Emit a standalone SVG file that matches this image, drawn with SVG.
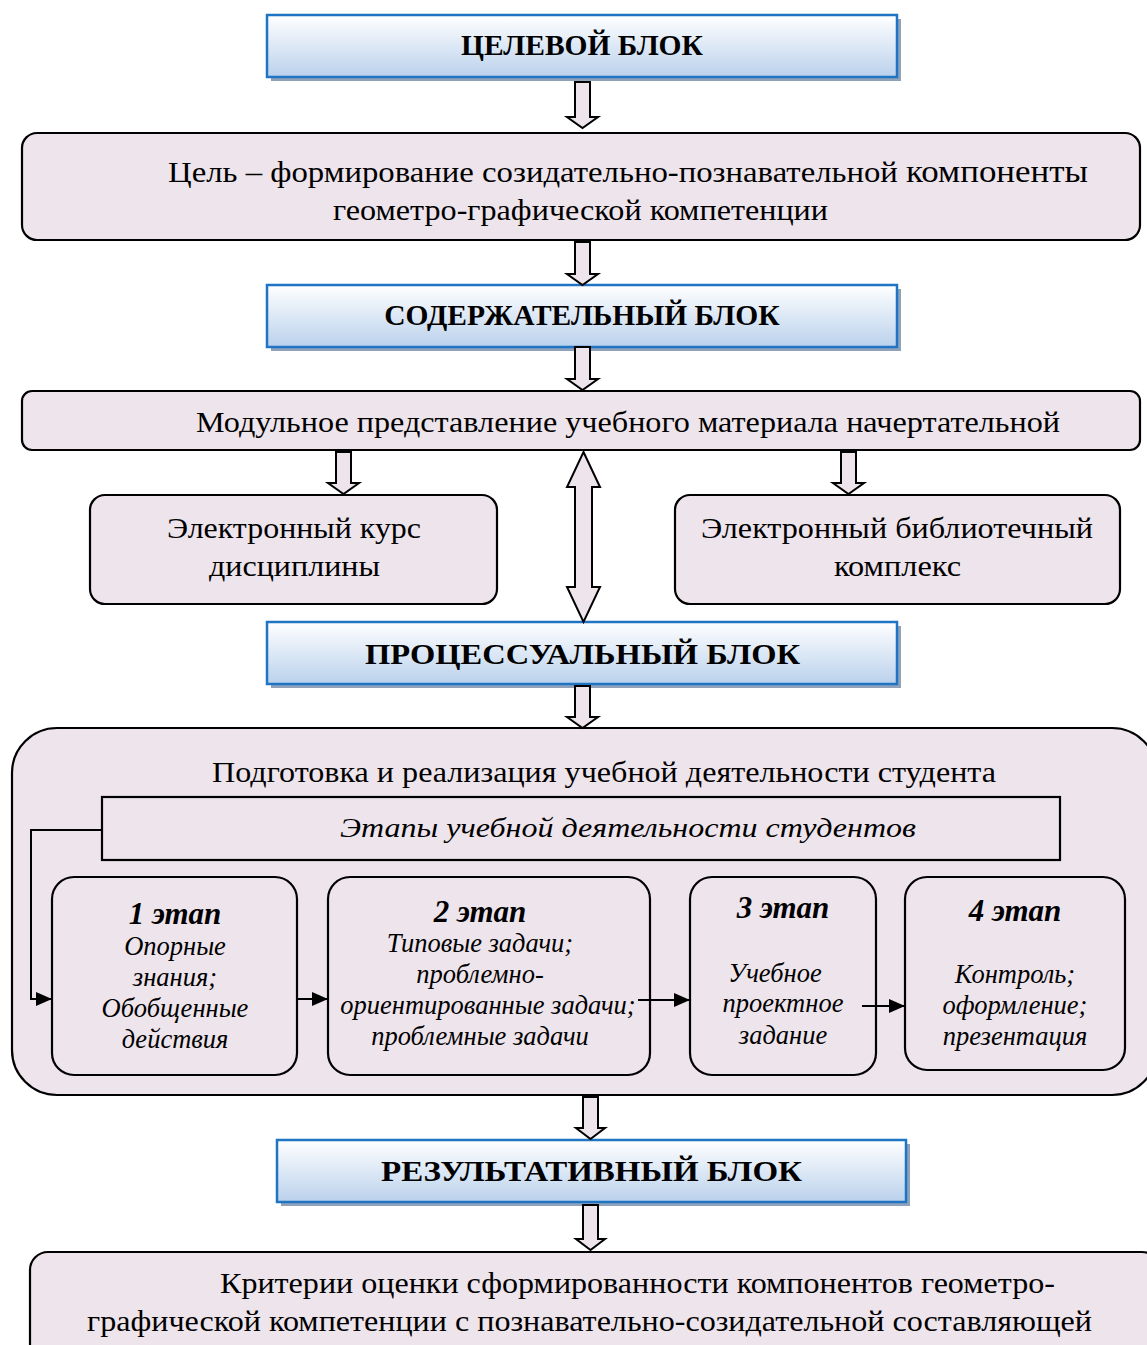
<svg xmlns="http://www.w3.org/2000/svg" width="1147" height="1345" viewBox="0 0 1147 1345">
<defs>
<linearGradient id="hg" x1="0" y1="0" x2="0" y2="1">
<stop offset="0" stop-color="#FFFFFF"/>
<stop offset="1" stop-color="#BAD1EC"/>
</linearGradient>
<marker id="ah2" markerWidth="16" markerHeight="14" refX="15" refY="7" orient="auto" markerUnits="userSpaceOnUse">
<path d="M0,0 L16,7 L0,14 Z" fill="#000"/>
</marker>
</defs>
<style>
.hdr rect.sh{fill:#8FA2BA}
.hdr rect.b{fill:url(#hg);stroke:#1F74C4;stroke-width:2.5}
.hdr text{font-family:"Liberation Serif",serif;font-weight:bold;font-size:29.5px;fill:#000;text-anchor:middle}
.box{fill:#EEE4EC;stroke:#000;stroke-width:2.2}
.t{font-family:"Liberation Serif",serif;font-size:30px;fill:#000;text-anchor:middle}
.ti{font-family:"Liberation Serif",serif;font-style:italic;font-size:26.5px;fill:#000;text-anchor:middle}
.tb{font-family:"Liberation Serif",serif;font-style:italic;font-weight:bold;font-size:31px;fill:#000;text-anchor:middle}
.fa{fill:#EEE4EC;stroke:#000;stroke-width:2;stroke-linejoin:miter}
.ln{fill:none;stroke:#000;stroke-width:2}
</style>

<g id="h1" class="hdr">
<rect class="sh" x="271" y="19" width="630" height="62"/>
<rect class="b" x="267" y="15" width="630" height="62"/>
<text x="582" y="55">ЦЕЛЕВОЙ БЛОК</text>
</g>

<g id="goal">
<rect class="box" x="22" y="133" width="1118" height="107" rx="15"/>
<text class="t" x="628" y="182" textLength="920" lengthAdjust="spacingAndGlyphs">Цель – формирование созидательно-познавательной <tspan font-size="32">компоненты</tspan></text>
<text class="t" x="580.5" y="220" textLength="495" lengthAdjust="spacingAndGlyphs">геометро-графической компетенции</text>
</g>

<g id="h2" class="hdr">
<rect class="sh" x="271" y="289" width="630" height="62"/>
<rect class="b" x="267" y="285" width="630" height="62"/>
<text x="582" y="325">СОДЕРЖАТЕЛЬНЫЙ БЛОК</text>
</g>

<g id="module">
<rect class="box" x="22" y="391" width="1118" height="59" rx="10"/>
<text class="t" x="628" y="432" textLength="864" lengthAdjust="spacingAndGlyphs">Модульное представление учебного материала начертательной</text>
</g>

<g id="ecourse">
<rect class="box" x="90" y="495" width="407" height="109" rx="15"/>
<text class="t" x="294" y="538" textLength="254" lengthAdjust="spacingAndGlyphs">Электронный курс</text>
<text class="t" x="294.5" y="576" textLength="171" lengthAdjust="spacingAndGlyphs">дисциплины</text>
</g>

<g id="elib">
<rect class="box" x="675" y="495" width="445" height="109" rx="15"/>
<text class="t" x="897" y="538" textLength="392" lengthAdjust="spacingAndGlyphs">Электронный библиотечный</text>
<text class="t" x="897.5" y="576" textLength="127" lengthAdjust="spacingAndGlyphs">комплекс</text>
</g>

<g id="h3" class="hdr">
<rect class="sh" x="271" y="626" width="630" height="62"/>
<rect class="b" x="267" y="622" width="630" height="62"/>
<text x="582.5" y="664" textLength="435" lengthAdjust="spacingAndGlyphs">ПРОЦЕССУАЛЬНЫЙ БЛОК</text>
</g>

<g id="process">
<rect class="box" x="12" y="728" width="1145" height="367" rx="45"/>
<text class="t" x="604" y="782" textLength="784" lengthAdjust="spacingAndGlyphs">Подготовка и реализация учебной деятельности студента</text>
</g>

<g id="stages">
<rect class="box" x="102" y="797" width="958" height="63" rx="0"/>
<text class="ti" x="628" y="837" font-size="30" textLength="576" lengthAdjust="spacingAndGlyphs">Этапы учебной деятельности студентов</text>
</g>

<g id="stage1">
<rect class="box" x="52" y="877" width="245" height="198" rx="22"/>
<text class="tb" x="175" y="924">1 этап</text>
<text class="ti" x="175" y="955">Опорные</text>
<text class="ti" x="175" y="986">знания;</text>
<text class="ti" x="175" y="1017">Обобщенные</text>
<text class="ti" x="175" y="1048">действия</text>
</g>

<g id="stage2">
<rect class="box" x="328" y="877" width="322" height="198" rx="22"/>
<text class="tb" x="480" y="922">2 этап</text>
<text class="ti" x="480" y="952">Типовые задачи;</text>
<text class="ti" x="480" y="983">проблемно-</text>
<text class="ti" x="488" y="1014">ориентированные задачи;</text>
<text class="ti" x="480" y="1045">проблемные задачи</text>
</g>

<g id="stage3">
<rect class="box" x="690" y="877" width="186" height="198" rx="22"/>
<text class="tb" x="783" y="918">3 этап</text>
<text class="ti" x="775" y="982">Учебное</text>
<text class="ti" x="783" y="1012">проектное</text>
<text class="ti" x="783" y="1044">задание</text>
</g>

<g id="stage4">
<rect class="box" x="905" y="877" width="220" height="193" rx="22"/>
<text class="tb" x="1015" y="921">4 этап</text>
<text class="ti" x="1015" y="983">Контроль;</text>
<text class="ti" x="1015" y="1014">оформление;</text>
<text class="ti" x="1015" y="1045">презентация</text>
</g>

<g id="h4" class="hdr">
<rect class="sh" x="281" y="1144" width="629" height="62"/>
<rect class="b" x="277" y="1140" width="629" height="62"/>
<text x="591.5" y="1181" textLength="421" lengthAdjust="spacingAndGlyphs">РЕЗУЛЬТАТИВНЫЙ БЛОК</text>
</g>

<g id="criteria">
<rect class="box" x="30" y="1252" width="1130" height="110" rx="18"/>
<text class="t" x="637.5" y="1293" textLength="835" lengthAdjust="spacingAndGlyphs">Критерии оценки сформированности компонентов геометро-</text>
<text class="t" x="589.5" y="1331" textLength="1005" lengthAdjust="spacingAndGlyphs">графической компетенции с познавательно-созидательной составляющей</text>
</g>

<g id="connectors">
<path class="fa" d="M575,82 H590 V117 H598 L582.5,128 L567,117 H575 Z"/>
<path class="fa" d="M575,242 H590 V274 H598 L582.5,285 L567,274 H575 Z"/>
<path class="fa" d="M575,347 H590 V379 H598 L582.5,390 L567,379 H575 Z"/>
<path class="fa" d="M336,452 H351 V483 H359 L343.5,494 L328,483 H336 Z"/>
<path class="fa" d="M841,452 H856 V483 H864 L848.5,494 L833,483 H841 Z"/>
<path class="fa" d="M583.5,452 L600,487 H592 V587 H600 L583.5,622 L567,587 H575 V487 H567 Z"/>
<path class="fa" d="M575,686 H590 V717 H598 L582.5,728 L567,717 H575 Z"/>
<path class="fa" d="M583,1097 H598 V1128 H605 L590.5,1139 L576,1128 H583 Z"/>
<path class="fa" d="M583,1205 H598 V1239 H605 L590.5,1250 L576,1239 H583 Z"/>
<path class="ln" d="M102,830 H31 V999 H51" marker-end="url(#ah2)"/>
<path class="ln" d="M297,999 H327" marker-end="url(#ah2)"/>
<path class="ln" d="M638,1000 H689" marker-end="url(#ah2)"/>
<path class="ln" d="M862,1006 H904" marker-end="url(#ah2)"/>
</g>
</svg>
